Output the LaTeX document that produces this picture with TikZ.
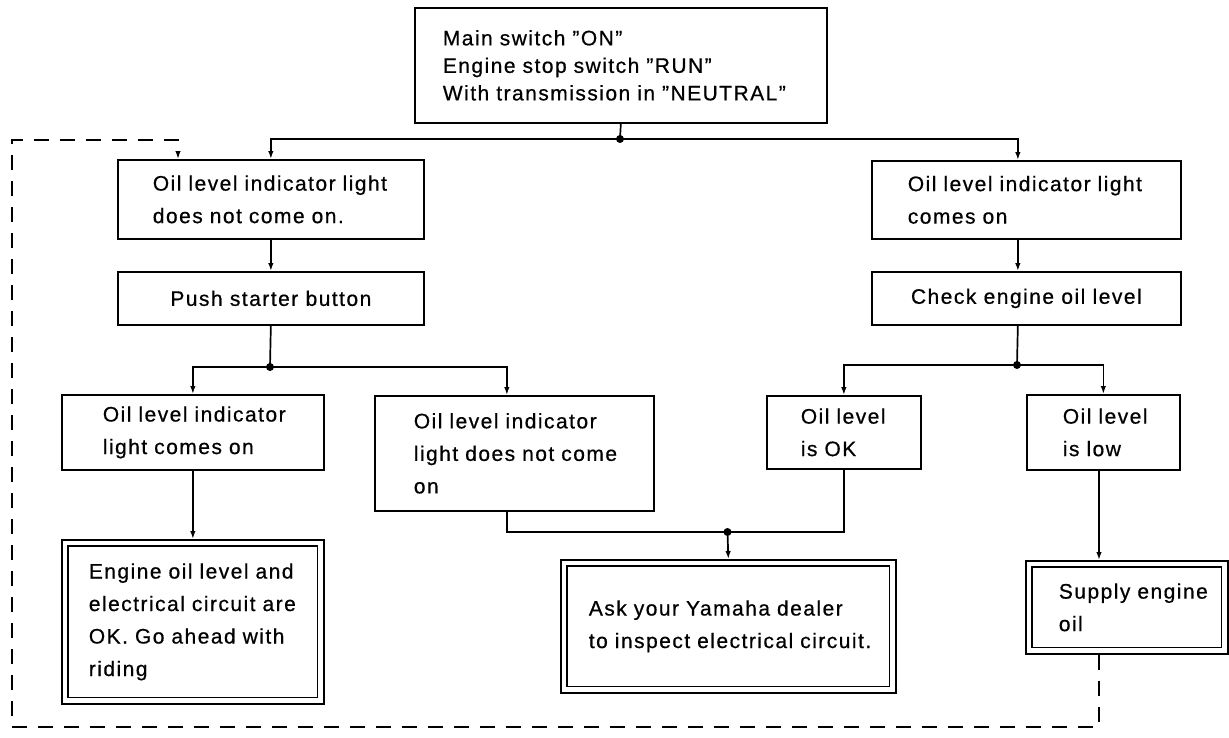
\documentclass[tikz,border=0pt]{standalone}
\usepackage{fontspec}
\setmainfont{Liberation Sans}[LetterSpace=7, FakeBold=0.6]
\usetikzlibrary{arrows.meta,calc}
\newcommand\boxfont{\fontsize{21}{32.5}\selectfont}
\newcommand\topfont{\fontsize{21}{27.5}\selectfont}
\newcommand\oneline[1]{\mbox{#1}}
\tikzset{
  ln/.style={line width=1.7pt},
  arr/.style={ln, -{Latex[length=8pt,width=5.5pt]}},
  dsh/.style={line width=1.5pt, dash pattern=on 15pt off 11pt, -{Latex[length=8pt,width=5.5pt]}},
  bx/.style={draw, line width=1.7pt, anchor=north west, inner ysep=0pt, align=left, font=\boxfont},
  cbx/.style={draw, line width=1.7pt, anchor=north west, inner ysep=0pt, align=center, font=\boxfont},
  dot/.style={fill=black},
}
\begin{document}
\begin{tikzpicture}[x=1pt,y=-1pt]
\useasboundingbox (0,0) rectangle (1229,737);
% boxes
\node[bx, font=\topfont, minimum width=412pt, minimum height=115pt, inner xsep=28pt, text width=356pt] (T) at (414,7)
  {\oneline{Main switch "ON"}\\ \oneline{Engine stop switch "RUN"}\\ \oneline{With transmission in "NEUTRAL"}};
\node[bx, minimum width=306pt, minimum height=79pt, inner xsep=35pt, text width=236pt] (A) at (117,159)
  {\oneline{Oil level indicator light}\\ \oneline{does not come on.}};
\node[cbx, minimum width=306pt, minimum height=53pt] (P) at (117,271) {Push starter button};
\node[bx, minimum width=309pt, minimum height=78pt, inner xsep=36pt, text width=237pt] (B) at (871,160)
  {\oneline{Oil level indicator light}\\ \oneline{comes on}};
\node[cbx, minimum width=309pt, minimum height=53pt] (H) at (871,271) {Check engine oil level};
\node[bx, minimum width=262pt, minimum height=75pt, inner xsep=41pt, text width=180pt] (C) at (61,394)
  {\oneline{Oil level indicator}\\ \oneline{light comes on}};
\node[bx, minimum width=279pt, minimum height=115pt, inner xsep=39pt, text width=201pt] (D) at (374,395)
  {\oneline{Oil level indicator}\\ \oneline{light does not come}\\ \oneline{on}};
\node[bx, minimum width=154pt, minimum height=73pt, inner xsep=34pt, text width=86pt] (F) at (766,395)
  {\oneline{Oil level}\\ \oneline{is OK}};
\node[bx, minimum width=153pt, minimum height=75pt, inner xsep=36pt, text width=81pt] (K) at (1026,394)
  {\oneline{Oil level}\\ \oneline{is low}};
\node[bx, minimum width=262pt, minimum height=164pt, inner xsep=27pt, text width=208pt] (E) at (61,539)
  {\oneline{Engine oil level and}\\ \oneline{electrical circuit are}\\ \oneline{OK. Go ahead with}\\ \oneline{riding}};
\node[bx, minimum width=335pt, minimum height=133pt, inner xsep=28pt, text width=279pt] (G) at (560,559)
  {\oneline{Ask your Yamaha dealer}\\ \oneline{to inspect electrical circuit.}};
\node[bx, minimum width=202pt, minimum height=93pt, inner xsep=33pt, text width=136pt] (L) at (1025,560)
  {\oneline{Supply engine}\\ \oneline{oil}};
% inner frames of double boxes
\foreach \n in {E,G,L}
  \draw[line width=1.5pt] ($(\n.north west)+(7,7)$) rectangle ($(\n.south east)+(-7,-7)$);
% junctions
\coordinate (J1) at (620,139);
\coordinate (J2) at (270,367);
\coordinate (J3) at (1017,365);
\coordinate (J4) at (727.5,532);
\coordinate (Bx) at ($(B.north)+(-8.5,0)$);
\coordinate (Dx) at ($(D.north)+(-7.5,0)$);
\coordinate (Lx) at (1099,0);
% connectors
\draw[ln] (T.south) -- (J1);
\draw[arr] (J1) -| (A.north);
\draw[arr] (J1) -| (Bx);
\draw[arr] (A.south) -- (P.north);
\draw[ln] (P.south) -- (J2);
\draw[arr] (J2) -| (C.north);
\draw[arr] (J2) -| (Dx);
\draw[arr] (C.south) -- (E.north);
\draw[arr] (B.south -| Bx) -- (H.north -| Bx);
\draw[ln] (H.south -| Bx) -- (J3);
\draw[arr] (J3) -| (F.north);
\draw[arr] (J3) -| (K.north);
\draw[arr] (K.south -| Lx) -- (L.north -| Lx);
\draw[ln] (D.south -| Dx) |- (J4);
\draw[ln] (F.south) |- (J4);
\draw[arr] (J4) -- (G.north);
% feedback dashed loop
\coordinate (R1) at (1099,727);
\coordinate (R2) at (12,727);
\coordinate (R3) at (12,140);
\coordinate (R4) at (178,140);
\draw[dsh] (L.south -| R1) -- (R1) -- (R2) -- (R3) -- (R4) -- (A.north -| R4);
% dots
\foreach \j in {J1,J2,J3,J4} \fill[dot] (\j) circle (4pt);
\end{tikzpicture}
\end{document}
